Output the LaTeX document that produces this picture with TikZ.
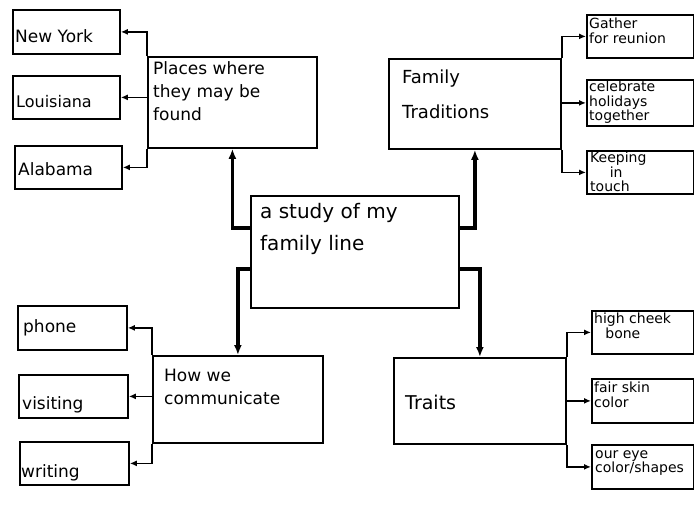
\documentclass[tikz,border=0pt]{standalone}
\usepackage{fontspec}
\setmainfont{DejaVu Sans}
\usetikzlibrary{arrows.meta}

\begin{document}
\begin{tikzpicture}[
    x=1pt, y=-1pt,
    box/.style={draw, line width=1.8pt, anchor=north west, inner sep=0pt},
    lbl/.style={anchor=north west, align=left, inner sep=0pt, font=\fontsize{17}{23}\selectfont},
    lblbig/.style={lbl, font=\fontsize{20}{32}\selectfont},
    lblsmall/.style={lbl, font=\fontsize{14}{14.5}\selectfont},
    trunk/.style={-{Latex[length=10pt,width=8pt]}, line width=3.5pt},
    branch/.style={-{Latex[length=7pt,width=6pt]}, line width=1.8pt}
]
\useasboundingbox (0,0) rectangle (694,507);

% main topic
\node[box, minimum width=208pt, minimum height=112pt,
  label={[lblbig, xshift=10pt, yshift=-8pt]north west:{a study of my\\family line}}] (study) at (250,195) {};

% four subtopics
\node[box, minimum width=169pt, minimum height=91pt,
  label={[lbl, xshift=6pt, yshift=-5pt]north west:{Places where\\they may be\\found}}] (places) at (147,56) {};
\node[box, minimum width=172pt, minimum height=90pt,
  label={[lbl, font=\fontsize{18}{35}\selectfont, xshift=14pt, yshift=-12pt]north west:{Family\\Traditions}}] (trad) at (388,58) {};
\node[box, minimum width=170pt, minimum height=87pt,
  label={[lbl, xshift=12pt, yshift=-14pt]north west:{How we\\communicate}}] (comm) at (152,355) {};
\node[box, minimum width=172pt, minimum height=86pt,
  label={[lbl, font=\fontsize{19}{23}\selectfont, xshift=12pt, yshift=-38pt]north west:{Traits}}] (traits) at (393,357) {};

% places
\node[box, minimum width=107pt, minimum height=44pt,
  label={[lbl, xshift=3pt, yshift=-20pt]north west:{New York}}] (ny) at (12,9) {};
\node[box, minimum width=107pt, minimum height=43pt,
  label={[lbl, font=\fontsize{16}{18}\selectfont, xshift=4pt, yshift=-20pt]north west:{Louisiana}}] (la) at (12,75) {};
\node[box, minimum width=107pt, minimum height=43pt,
  label={[lbl, xshift=4pt, yshift=-17pt]north west:{Alabama}}] (al) at (14,145) {};

% traditions
\node[box, minimum width=107pt, minimum height=43pt,
  label={[lblsmall, xshift=3pt, yshift=-4pt]north west:{Gather\\for reunion}}] (gather) at (586,14) {};
\node[box, minimum width=107pt, minimum height=46pt,
  label={[lblsmall, xshift=3pt, yshift=-2pt]north west:{celebrate\\holidays\\together}}] (holiday) at (586,79) {};
\node[box, minimum width=107pt, minimum height=43pt,
  label={[lblsmall, xshift=4pt, yshift=-2pt]north west:{Keeping\\\hspace*{1.4em}in\\touch}}] (touch) at (586,150) {};

% communication
\node[box, minimum width=109pt, minimum height=44pt,
  label={[lbl, xshift=6pt, yshift=-14pt]north west:{phone}}] (phone) at (17,305) {};
\node[box, minimum width=109pt, minimum height=43pt,
  label={[lbl, xshift=4pt, yshift=-22pt]north west:{visiting}}] (visit) at (18,374) {};
\node[box, minimum width=109pt, minimum height=43pt,
  label={[lbl, xshift=2pt, yshift=-23pt]north west:{writing}}] (write) at (19,441) {};

% traits
\node[box, minimum width=102pt, minimum height=43pt,
  label={[lblsmall, xshift=3pt, yshift=-3pt]north west:{high cheek\\\hspace*{0.8em}bone}}] (cheek) at (591,310) {};
\node[box, minimum width=102pt, minimum height=44pt,
  label={[lblsmall, xshift=3pt, yshift=-4pt]north west:{fair skin\\color}}] (skin) at (591,378) {};
\node[box, minimum width=102pt, minimum height=44pt,
  label={[lblsmall, xshift=4pt, yshift=-6pt]north west:{our eye\\color/shapes}}] (eye) at (591,444) {};

% from the main topic
\draw[trunk] ([yshift=24pt]study.west) -| (places.south);
\draw[trunk] ([yshift=24pt]study.east) -| (trad.south);
\draw[trunk] ([yshift=-17pt]study.west) -| (comm.north);
\draw[trunk] ([yshift=-17pt]study.east) -| (traits.north);

% to the details
\draw[branch] (places.north west) |- (ny.east);
\draw[branch] (places.west |- la.east) -- (la.east);
\draw[branch] (places.south west) |- (al.east);

\draw[branch] (trad.north east) |- (gather.west);
\draw[branch] (trad.east |- holiday.west) -- (holiday.west);
\draw[branch] (trad.south east) |- (touch.west);

\draw[branch] (comm.north west) |- (phone.east);
\draw[branch] (comm.west |- visit.east) -- (visit.east);
\draw[branch] (comm.south west) |- (write.east);

\draw[branch] (traits.north east) |- (cheek.west);
\draw[branch] (traits.east |- skin.west) -- (skin.west);
\draw[branch] (traits.south east) |- (eye.west);
\end{tikzpicture}
\end{document}
